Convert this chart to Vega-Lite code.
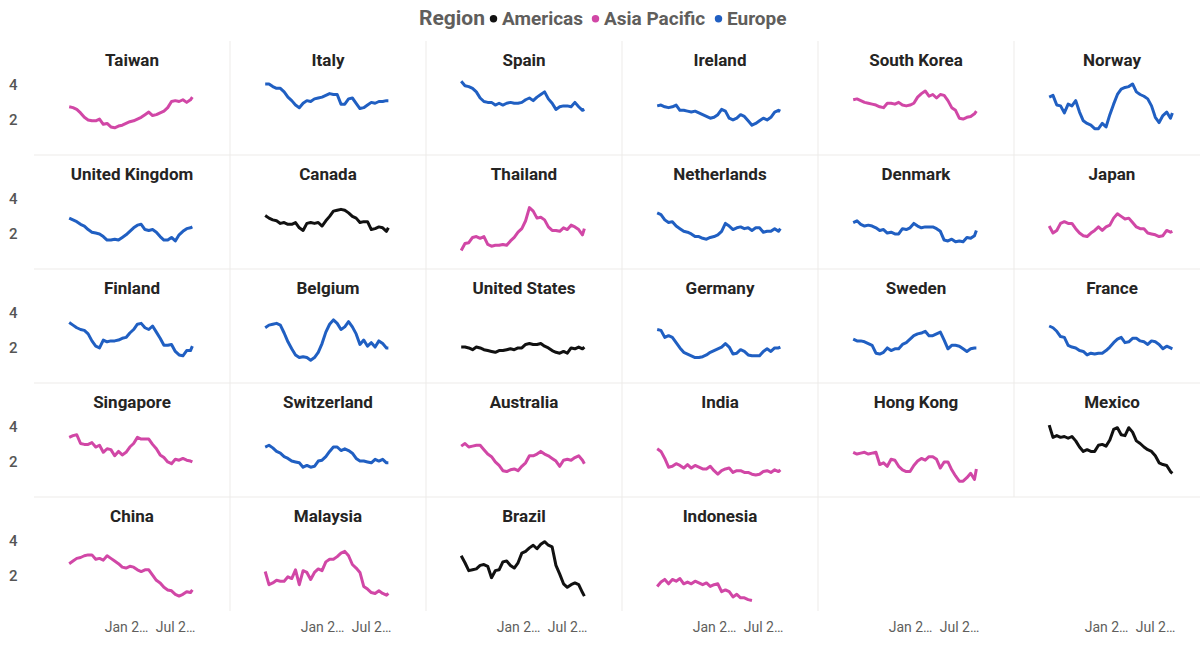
{
  "$schema": "https://vega.github.io/schema/vega-lite/v6.json",
  "padding": {"left": 8, "top": 9, "right": 0, "bottom": 0},
  "bounds": "flush",
  "background": "white",
  "config": {
    "font": "Roboto",
    "view": {"stroke": null},
    "axis": {"domain": false, "ticks": false, "grid": false, "labelFont": "Roboto", "labelColor": "#605E5C", "labelFontSize": 14}
  },
  "datasets": {
    "countries": [
      {"c": "Taiwan", "region": "Asia Pacific", "slot": 0},
      {"c": "Italy", "region": "Europe", "slot": 1},
      {"c": "Spain", "region": "Europe", "slot": 2},
      {"c": "Ireland", "region": "Europe", "slot": 3},
      {"c": "South Korea", "region": "Asia Pacific", "slot": 4},
      {"c": "Norway", "region": "Europe", "slot": 5},
      {"c": "United Kingdom", "region": "Europe", "slot": 6},
      {"c": "Canada", "region": "Americas", "slot": 7},
      {"c": "Thailand", "region": "Asia Pacific", "slot": 8},
      {"c": "Netherlands", "region": "Europe", "slot": 9},
      {"c": "Denmark", "region": "Europe", "slot": 10},
      {"c": "Japan", "region": "Asia Pacific", "slot": 11},
      {"c": "Finland", "region": "Europe", "slot": 12},
      {"c": "Belgium", "region": "Europe", "slot": 13},
      {"c": "United States", "region": "Americas", "slot": 14},
      {"c": "Germany", "region": "Europe", "slot": 15},
      {"c": "Sweden", "region": "Europe", "slot": 16},
      {"c": "France", "region": "Europe", "slot": 17},
      {"c": "Singapore", "region": "Asia Pacific", "slot": 18},
      {"c": "Switzerland", "region": "Europe", "slot": 19},
      {"c": "Australia", "region": "Asia Pacific", "slot": 20},
      {"c": "India", "region": "Asia Pacific", "slot": 21},
      {"c": "Hong Kong", "region": "Asia Pacific", "slot": 22},
      {"c": "Mexico", "region": "Americas", "slot": 23},
      {"c": "China", "region": "Asia Pacific", "slot": 24},
      {"c": "Malaysia", "region": "Asia Pacific", "slot": 25},
      {"c": "Brazil", "region": "Americas", "slot": 26},
      {"c": "Indonesia", "region": "Asia Pacific", "slot": 27}
    ],
    "series": [
      {"c":"Taiwan","d":"2022-06-05","v":2.75},{"c":"Taiwan","d":"2022-06-19","v":2.7},{"c":"Taiwan","d":"2022-07-03","v":2.6},{"c":"Taiwan","d":"2022-07-17","v":2.4},{"c":"Taiwan","d":"2022-07-31","v":2.15},{"c":"Taiwan","d":"2022-08-14","v":2.0},{"c":"Taiwan","d":"2022-08-28","v":1.95},{"c":"Taiwan","d":"2022-09-11","v":1.95},{"c":"Taiwan","d":"2022-09-25","v":2.05},{"c":"Taiwan","d":"2022-10-09","v":1.75},{"c":"Taiwan","d":"2022-10-23","v":1.8},{"c":"Taiwan","d":"2022-11-06","v":1.6},{"c":"Taiwan","d":"2022-11-20","v":1.55},{"c":"Taiwan","d":"2022-12-04","v":1.65},{"c":"Taiwan","d":"2022-12-18","v":1.7},{"c":"Taiwan","d":"2023-01-01","v":1.8},{"c":"Taiwan","d":"2023-01-15","v":1.9},{"c":"Taiwan","d":"2023-01-29","v":1.95},{"c":"Taiwan","d":"2023-02-12","v":2.05},{"c":"Taiwan","d":"2023-02-26","v":2.15},{"c":"Taiwan","d":"2023-03-12","v":2.3},{"c":"Taiwan","d":"2023-03-26","v":2.45},{"c":"Taiwan","d":"2023-04-09","v":2.25},{"c":"Taiwan","d":"2023-04-23","v":2.3},{"c":"Taiwan","d":"2023-05-07","v":2.4},{"c":"Taiwan","d":"2023-05-21","v":2.5},{"c":"Taiwan","d":"2023-06-04","v":2.7},{"c":"Taiwan","d":"2023-06-18","v":3.05},{"c":"Taiwan","d":"2023-07-02","v":3.1},{"c":"Taiwan","d":"2023-07-16","v":3.05},{"c":"Taiwan","d":"2023-07-30","v":3.15},{"c":"Taiwan","d":"2023-08-13","v":3.0},{"c":"Taiwan","d":"2023-08-27","v":3.15},{"c":"Taiwan","d":"2023-09-03","v":3.3},
      {"c":"Italy","d":"2022-06-05","v":4.05},{"c":"Italy","d":"2022-06-19","v":4.05},{"c":"Italy","d":"2022-07-03","v":3.9},{"c":"Italy","d":"2022-07-17","v":3.8},{"c":"Italy","d":"2022-07-31","v":3.8},{"c":"Italy","d":"2022-08-14","v":3.6},{"c":"Italy","d":"2022-08-28","v":3.3},{"c":"Italy","d":"2022-09-11","v":3.1},{"c":"Italy","d":"2022-09-25","v":2.85},{"c":"Italy","d":"2022-10-09","v":2.7},{"c":"Italy","d":"2022-10-23","v":2.95},{"c":"Italy","d":"2022-11-06","v":3.1},{"c":"Italy","d":"2022-11-20","v":3.05},{"c":"Italy","d":"2022-12-04","v":3.2},{"c":"Italy","d":"2022-12-18","v":3.25},{"c":"Italy","d":"2023-01-01","v":3.3},{"c":"Italy","d":"2023-01-15","v":3.4},{"c":"Italy","d":"2023-01-29","v":3.5},{"c":"Italy","d":"2023-02-12","v":3.45},{"c":"Italy","d":"2023-02-26","v":3.45},{"c":"Italy","d":"2023-03-12","v":2.9},{"c":"Italy","d":"2023-03-26","v":2.9},{"c":"Italy","d":"2023-04-09","v":3.2},{"c":"Italy","d":"2023-04-23","v":3.25},{"c":"Italy","d":"2023-05-07","v":2.95},{"c":"Italy","d":"2023-05-21","v":2.65},{"c":"Italy","d":"2023-06-04","v":2.7},{"c":"Italy","d":"2023-06-18","v":2.85},{"c":"Italy","d":"2023-07-02","v":3.0},{"c":"Italy","d":"2023-07-16","v":2.95},{"c":"Italy","d":"2023-07-30","v":3.05},{"c":"Italy","d":"2023-08-13","v":3.05},{"c":"Italy","d":"2023-08-27","v":3.1},{"c":"Italy","d":"2023-09-03","v":3.1},
      {"c":"Spain","d":"2022-06-05","v":4.2},{"c":"Spain","d":"2022-06-19","v":3.95},{"c":"Spain","d":"2022-07-03","v":3.9},{"c":"Spain","d":"2022-07-17","v":3.8},{"c":"Spain","d":"2022-07-31","v":3.6},{"c":"Spain","d":"2022-08-14","v":3.25},{"c":"Spain","d":"2022-08-28","v":3.05},{"c":"Spain","d":"2022-09-11","v":3.0},{"c":"Spain","d":"2022-09-25","v":3.0},{"c":"Spain","d":"2022-10-09","v":2.85},{"c":"Spain","d":"2022-10-23","v":2.95},{"c":"Spain","d":"2022-11-06","v":2.85},{"c":"Spain","d":"2022-11-20","v":2.95},{"c":"Spain","d":"2022-12-04","v":3.0},{"c":"Spain","d":"2022-12-18","v":2.95},{"c":"Spain","d":"2023-01-01","v":2.95},{"c":"Spain","d":"2023-01-15","v":3.0},{"c":"Spain","d":"2023-01-29","v":3.15},{"c":"Spain","d":"2023-02-12","v":3.25},{"c":"Spain","d":"2023-02-26","v":3.1},{"c":"Spain","d":"2023-03-12","v":3.3},{"c":"Spain","d":"2023-03-26","v":3.45},{"c":"Spain","d":"2023-04-09","v":3.6},{"c":"Spain","d":"2023-04-23","v":3.2},{"c":"Spain","d":"2023-05-07","v":2.95},{"c":"Spain","d":"2023-05-21","v":2.6},{"c":"Spain","d":"2023-06-04","v":2.75},{"c":"Spain","d":"2023-06-18","v":2.8},{"c":"Spain","d":"2023-07-02","v":2.8},{"c":"Spain","d":"2023-07-16","v":2.75},{"c":"Spain","d":"2023-07-30","v":3.0},{"c":"Spain","d":"2023-08-13","v":2.75},{"c":"Spain","d":"2023-08-27","v":2.55},{"c":"Spain","d":"2023-09-03","v":2.6},
      {"c":"Ireland","d":"2022-06-05","v":2.8},{"c":"Ireland","d":"2022-06-19","v":2.85},{"c":"Ireland","d":"2022-07-03","v":2.75},{"c":"Ireland","d":"2022-07-17","v":2.7},{"c":"Ireland","d":"2022-07-31","v":2.75},{"c":"Ireland","d":"2022-08-14","v":2.85},{"c":"Ireland","d":"2022-08-28","v":2.55},{"c":"Ireland","d":"2022-09-11","v":2.55},{"c":"Ireland","d":"2022-09-25","v":2.5},{"c":"Ireland","d":"2022-10-09","v":2.45},{"c":"Ireland","d":"2022-10-23","v":2.5},{"c":"Ireland","d":"2022-11-06","v":2.4},{"c":"Ireland","d":"2022-11-20","v":2.3},{"c":"Ireland","d":"2022-12-04","v":2.2},{"c":"Ireland","d":"2022-12-18","v":2.1},{"c":"Ireland","d":"2023-01-01","v":2.15},{"c":"Ireland","d":"2023-01-15","v":2.3},{"c":"Ireland","d":"2023-01-29","v":2.6},{"c":"Ireland","d":"2023-02-12","v":2.5},{"c":"Ireland","d":"2023-02-26","v":2.1},{"c":"Ireland","d":"2023-03-12","v":2.0},{"c":"Ireland","d":"2023-03-26","v":2.1},{"c":"Ireland","d":"2023-04-09","v":2.3},{"c":"Ireland","d":"2023-04-23","v":2.2},{"c":"Ireland","d":"2023-05-07","v":1.95},{"c":"Ireland","d":"2023-05-21","v":1.7},{"c":"Ireland","d":"2023-06-04","v":1.8},{"c":"Ireland","d":"2023-06-18","v":1.95},{"c":"Ireland","d":"2023-07-02","v":2.1},{"c":"Ireland","d":"2023-07-16","v":2.0},{"c":"Ireland","d":"2023-07-30","v":2.15},{"c":"Ireland","d":"2023-08-13","v":2.45},{"c":"Ireland","d":"2023-08-27","v":2.55},{"c":"Ireland","d":"2023-09-03","v":2.5},
      {"c":"South Korea","d":"2022-06-05","v":3.15},{"c":"South Korea","d":"2022-06-19","v":3.2},{"c":"South Korea","d":"2022-07-03","v":3.1},{"c":"South Korea","d":"2022-07-17","v":3.0},{"c":"South Korea","d":"2022-07-31","v":2.95},{"c":"South Korea","d":"2022-08-14","v":2.9},{"c":"South Korea","d":"2022-08-28","v":2.85},{"c":"South Korea","d":"2022-09-11","v":2.75},{"c":"South Korea","d":"2022-09-25","v":2.7},{"c":"South Korea","d":"2022-10-09","v":2.95},{"c":"South Korea","d":"2022-10-23","v":2.95},{"c":"South Korea","d":"2022-11-06","v":2.9},{"c":"South Korea","d":"2022-11-20","v":3.0},{"c":"South Korea","d":"2022-12-04","v":2.85},{"c":"South Korea","d":"2022-12-18","v":2.8},{"c":"South Korea","d":"2023-01-01","v":2.85},{"c":"South Korea","d":"2023-01-15","v":2.95},{"c":"South Korea","d":"2023-01-29","v":3.3},{"c":"South Korea","d":"2023-02-12","v":3.5},{"c":"South Korea","d":"2023-02-26","v":3.65},{"c":"South Korea","d":"2023-03-12","v":3.35},{"c":"South Korea","d":"2023-03-26","v":3.45},{"c":"South Korea","d":"2023-04-09","v":3.25},{"c":"South Korea","d":"2023-04-23","v":3.45},{"c":"South Korea","d":"2023-05-07","v":3.4},{"c":"South Korea","d":"2023-05-21","v":3.1},{"c":"South Korea","d":"2023-06-04","v":2.7},{"c":"South Korea","d":"2023-06-18","v":2.55},{"c":"South Korea","d":"2023-07-02","v":2.1},{"c":"South Korea","d":"2023-07-16","v":2.05},{"c":"South Korea","d":"2023-07-30","v":2.15},{"c":"South Korea","d":"2023-08-13","v":2.2},{"c":"South Korea","d":"2023-08-27","v":2.35},{"c":"South Korea","d":"2023-09-03","v":2.5},
      {"c":"Norway","d":"2022-06-05","v":3.3},{"c":"Norway","d":"2022-06-19","v":3.4},{"c":"Norway","d":"2022-07-03","v":2.85},{"c":"Norway","d":"2022-07-17","v":2.8},{"c":"Norway","d":"2022-07-31","v":2.4},{"c":"Norway","d":"2022-08-14","v":2.9},{"c":"Norway","d":"2022-08-28","v":2.8},{"c":"Norway","d":"2022-09-11","v":3.1},{"c":"Norway","d":"2022-09-25","v":2.45},{"c":"Norway","d":"2022-10-09","v":1.95},{"c":"Norway","d":"2022-10-23","v":1.8},{"c":"Norway","d":"2022-11-06","v":1.7},{"c":"Norway","d":"2022-11-20","v":1.5},{"c":"Norway","d":"2022-12-04","v":1.5},{"c":"Norway","d":"2022-12-18","v":1.8},{"c":"Norway","d":"2023-01-01","v":1.6},{"c":"Norway","d":"2023-01-15","v":2.3},{"c":"Norway","d":"2023-01-29","v":2.9},{"c":"Norway","d":"2023-02-12","v":3.45},{"c":"Norway","d":"2023-02-26","v":3.75},{"c":"Norway","d":"2023-03-12","v":3.85},{"c":"Norway","d":"2023-03-26","v":3.9},{"c":"Norway","d":"2023-04-09","v":4.05},{"c":"Norway","d":"2023-04-23","v":3.6},{"c":"Norway","d":"2023-05-07","v":3.45},{"c":"Norway","d":"2023-05-21","v":3.35},{"c":"Norway","d":"2023-06-04","v":3.2},{"c":"Norway","d":"2023-06-18","v":2.8},{"c":"Norway","d":"2023-07-02","v":2.15},{"c":"Norway","d":"2023-07-16","v":1.85},{"c":"Norway","d":"2023-07-30","v":2.25},{"c":"Norway","d":"2023-08-13","v":2.45},{"c":"Norway","d":"2023-08-27","v":2.1},{"c":"Norway","d":"2023-09-03","v":2.4},
      {"c":"United Kingdom","d":"2022-06-05","v":2.9},{"c":"United Kingdom","d":"2022-06-19","v":2.8},{"c":"United Kingdom","d":"2022-07-03","v":2.7},{"c":"United Kingdom","d":"2022-07-17","v":2.55},{"c":"United Kingdom","d":"2022-07-31","v":2.45},{"c":"United Kingdom","d":"2022-08-14","v":2.25},{"c":"United Kingdom","d":"2022-08-28","v":2.1},{"c":"United Kingdom","d":"2022-09-11","v":2.05},{"c":"United Kingdom","d":"2022-09-25","v":2.0},{"c":"United Kingdom","d":"2022-10-09","v":1.85},{"c":"United Kingdom","d":"2022-10-23","v":1.65},{"c":"United Kingdom","d":"2022-11-06","v":1.65},{"c":"United Kingdom","d":"2022-11-20","v":1.7},{"c":"United Kingdom","d":"2022-12-04","v":1.65},{"c":"United Kingdom","d":"2022-12-18","v":1.8},{"c":"United Kingdom","d":"2023-01-01","v":1.95},{"c":"United Kingdom","d":"2023-01-15","v":2.15},{"c":"United Kingdom","d":"2023-01-29","v":2.35},{"c":"United Kingdom","d":"2023-02-12","v":2.5},{"c":"United Kingdom","d":"2023-02-26","v":2.55},{"c":"United Kingdom","d":"2023-03-12","v":2.25},{"c":"United Kingdom","d":"2023-03-26","v":2.2},{"c":"United Kingdom","d":"2023-04-09","v":2.25},{"c":"United Kingdom","d":"2023-04-23","v":2.1},{"c":"United Kingdom","d":"2023-05-07","v":1.85},{"c":"United Kingdom","d":"2023-05-21","v":1.65},{"c":"United Kingdom","d":"2023-06-04","v":1.65},{"c":"United Kingdom","d":"2023-06-18","v":1.8},{"c":"United Kingdom","d":"2023-07-02","v":1.6},{"c":"United Kingdom","d":"2023-07-16","v":1.95},{"c":"United Kingdom","d":"2023-07-30","v":2.15},{"c":"United Kingdom","d":"2023-08-13","v":2.3},{"c":"United Kingdom","d":"2023-08-27","v":2.35},{"c":"United Kingdom","d":"2023-09-03","v":2.4},
      {"c":"Canada","d":"2022-06-05","v":3.05},{"c":"Canada","d":"2022-06-19","v":2.9},{"c":"Canada","d":"2022-07-03","v":2.8},{"c":"Canada","d":"2022-07-17","v":2.75},{"c":"Canada","d":"2022-07-31","v":2.6},{"c":"Canada","d":"2022-08-14","v":2.65},{"c":"Canada","d":"2022-08-28","v":2.55},{"c":"Canada","d":"2022-09-11","v":2.55},{"c":"Canada","d":"2022-09-25","v":2.65},{"c":"Canada","d":"2022-10-09","v":2.35},{"c":"Canada","d":"2022-10-23","v":2.2},{"c":"Canada","d":"2022-11-06","v":2.6},{"c":"Canada","d":"2022-11-20","v":2.65},{"c":"Canada","d":"2022-12-04","v":2.6},{"c":"Canada","d":"2022-12-18","v":2.65},{"c":"Canada","d":"2023-01-01","v":2.45},{"c":"Canada","d":"2023-01-15","v":2.75},{"c":"Canada","d":"2023-01-29","v":3.0},{"c":"Canada","d":"2023-02-12","v":3.3},{"c":"Canada","d":"2023-02-26","v":3.35},{"c":"Canada","d":"2023-03-12","v":3.4},{"c":"Canada","d":"2023-03-26","v":3.35},{"c":"Canada","d":"2023-04-09","v":3.2},{"c":"Canada","d":"2023-04-23","v":3.0},{"c":"Canada","d":"2023-05-07","v":2.9},{"c":"Canada","d":"2023-05-21","v":2.65},{"c":"Canada","d":"2023-06-04","v":2.7},{"c":"Canada","d":"2023-06-18","v":2.7},{"c":"Canada","d":"2023-07-02","v":2.25},{"c":"Canada","d":"2023-07-16","v":2.3},{"c":"Canada","d":"2023-07-30","v":2.4},{"c":"Canada","d":"2023-08-13","v":2.35},{"c":"Canada","d":"2023-08-27","v":2.15},{"c":"Canada","d":"2023-09-03","v":2.35},
      {"c":"Thailand","d":"2022-06-05","v":1.05},{"c":"Thailand","d":"2022-06-19","v":1.45},{"c":"Thailand","d":"2022-07-03","v":1.5},{"c":"Thailand","d":"2022-07-17","v":1.8},{"c":"Thailand","d":"2022-07-31","v":1.85},{"c":"Thailand","d":"2022-08-14","v":1.75},{"c":"Thailand","d":"2022-08-28","v":1.85},{"c":"Thailand","d":"2022-09-11","v":1.4},{"c":"Thailand","d":"2022-09-25","v":1.3},{"c":"Thailand","d":"2022-10-09","v":1.35},{"c":"Thailand","d":"2022-10-23","v":1.35},{"c":"Thailand","d":"2022-11-06","v":1.4},{"c":"Thailand","d":"2022-11-20","v":1.35},{"c":"Thailand","d":"2022-12-04","v":1.6},{"c":"Thailand","d":"2022-12-18","v":1.8},{"c":"Thailand","d":"2023-01-01","v":2.1},{"c":"Thailand","d":"2023-01-15","v":2.3},{"c":"Thailand","d":"2023-01-29","v":2.75},{"c":"Thailand","d":"2023-02-12","v":3.5},{"c":"Thailand","d":"2023-02-26","v":3.3},{"c":"Thailand","d":"2023-03-12","v":2.9},{"c":"Thailand","d":"2023-03-26","v":2.95},{"c":"Thailand","d":"2023-04-09","v":2.8},{"c":"Thailand","d":"2023-04-23","v":2.4},{"c":"Thailand","d":"2023-05-07","v":2.2},{"c":"Thailand","d":"2023-05-21","v":2.2},{"c":"Thailand","d":"2023-06-04","v":2.15},{"c":"Thailand","d":"2023-06-18","v":2.35},{"c":"Thailand","d":"2023-07-02","v":2.25},{"c":"Thailand","d":"2023-07-16","v":2.5},{"c":"Thailand","d":"2023-07-30","v":2.4},{"c":"Thailand","d":"2023-08-13","v":2.25},{"c":"Thailand","d":"2023-08-27","v":1.95},{"c":"Thailand","d":"2023-09-03","v":2.3},
      {"c":"Netherlands","d":"2022-06-05","v":3.2},{"c":"Netherlands","d":"2022-06-19","v":3.1},{"c":"Netherlands","d":"2022-07-03","v":2.8},{"c":"Netherlands","d":"2022-07-17","v":2.65},{"c":"Netherlands","d":"2022-07-31","v":2.7},{"c":"Netherlands","d":"2022-08-14","v":2.45},{"c":"Netherlands","d":"2022-08-28","v":2.3},{"c":"Netherlands","d":"2022-09-11","v":2.15},{"c":"Netherlands","d":"2022-09-25","v":2.1},{"c":"Netherlands","d":"2022-10-09","v":2.0},{"c":"Netherlands","d":"2022-10-23","v":1.85},{"c":"Netherlands","d":"2022-11-06","v":1.85},{"c":"Netherlands","d":"2022-11-20","v":1.75},{"c":"Netherlands","d":"2022-12-04","v":1.7},{"c":"Netherlands","d":"2022-12-18","v":1.8},{"c":"Netherlands","d":"2023-01-01","v":1.85},{"c":"Netherlands","d":"2023-01-15","v":1.95},{"c":"Netherlands","d":"2023-01-29","v":2.15},{"c":"Netherlands","d":"2023-02-12","v":2.6},{"c":"Netherlands","d":"2023-02-26","v":2.45},{"c":"Netherlands","d":"2023-03-12","v":2.25},{"c":"Netherlands","d":"2023-03-26","v":2.35},{"c":"Netherlands","d":"2023-04-09","v":2.4},{"c":"Netherlands","d":"2023-04-23","v":2.3},{"c":"Netherlands","d":"2023-05-07","v":2.35},{"c":"Netherlands","d":"2023-05-21","v":2.2},{"c":"Netherlands","d":"2023-06-04","v":2.35},{"c":"Netherlands","d":"2023-06-18","v":2.35},{"c":"Netherlands","d":"2023-07-02","v":2.1},{"c":"Netherlands","d":"2023-07-16","v":2.15},{"c":"Netherlands","d":"2023-07-30","v":2.15},{"c":"Netherlands","d":"2023-08-13","v":2.3},{"c":"Netherlands","d":"2023-08-27","v":2.15},{"c":"Netherlands","d":"2023-09-03","v":2.3},
      {"c":"Denmark","d":"2022-06-05","v":2.65},{"c":"Denmark","d":"2022-06-19","v":2.75},{"c":"Denmark","d":"2022-07-03","v":2.55},{"c":"Denmark","d":"2022-07-17","v":2.45},{"c":"Denmark","d":"2022-07-31","v":2.5},{"c":"Denmark","d":"2022-08-14","v":2.45},{"c":"Denmark","d":"2022-08-28","v":2.35},{"c":"Denmark","d":"2022-09-11","v":2.2},{"c":"Denmark","d":"2022-09-25","v":2.25},{"c":"Denmark","d":"2022-10-09","v":2.05},{"c":"Denmark","d":"2022-10-23","v":2.1},{"c":"Denmark","d":"2022-11-06","v":2.0},{"c":"Denmark","d":"2022-11-20","v":2.0},{"c":"Denmark","d":"2022-12-04","v":2.3},{"c":"Denmark","d":"2022-12-18","v":2.25},{"c":"Denmark","d":"2023-01-01","v":2.35},{"c":"Denmark","d":"2023-01-15","v":2.6},{"c":"Denmark","d":"2023-01-29","v":2.45},{"c":"Denmark","d":"2023-02-12","v":2.35},{"c":"Denmark","d":"2023-02-26","v":2.4},{"c":"Denmark","d":"2023-03-12","v":2.4},{"c":"Denmark","d":"2023-03-26","v":2.4},{"c":"Denmark","d":"2023-04-09","v":2.3},{"c":"Denmark","d":"2023-04-23","v":2.15},{"c":"Denmark","d":"2023-05-07","v":1.65},{"c":"Denmark","d":"2023-05-21","v":1.6},{"c":"Denmark","d":"2023-06-04","v":1.7},{"c":"Denmark","d":"2023-06-18","v":1.55},{"c":"Denmark","d":"2023-07-02","v":1.6},{"c":"Denmark","d":"2023-07-16","v":1.55},{"c":"Denmark","d":"2023-07-30","v":1.8},{"c":"Denmark","d":"2023-08-13","v":1.75},{"c":"Denmark","d":"2023-08-27","v":1.9},{"c":"Denmark","d":"2023-09-03","v":2.2},
      {"c":"Japan","d":"2022-06-05","v":2.45},{"c":"Japan","d":"2022-06-19","v":2.05},{"c":"Japan","d":"2022-07-03","v":2.2},{"c":"Japan","d":"2022-07-17","v":2.6},{"c":"Japan","d":"2022-07-31","v":2.7},{"c":"Japan","d":"2022-08-14","v":2.6},{"c":"Japan","d":"2022-08-28","v":2.6},{"c":"Japan","d":"2022-09-11","v":2.3},{"c":"Japan","d":"2022-09-25","v":2.05},{"c":"Japan","d":"2022-10-09","v":1.9},{"c":"Japan","d":"2022-10-23","v":1.85},{"c":"Japan","d":"2022-11-06","v":2.05},{"c":"Japan","d":"2022-11-20","v":2.2},{"c":"Japan","d":"2022-12-04","v":2.4},{"c":"Japan","d":"2022-12-18","v":2.2},{"c":"Japan","d":"2023-01-01","v":2.4},{"c":"Japan","d":"2023-01-15","v":2.5},{"c":"Japan","d":"2023-01-29","v":2.9},{"c":"Japan","d":"2023-02-12","v":3.15},{"c":"Japan","d":"2023-02-26","v":3.0},{"c":"Japan","d":"2023-03-12","v":2.85},{"c":"Japan","d":"2023-03-26","v":2.9},{"c":"Japan","d":"2023-04-09","v":2.65},{"c":"Japan","d":"2023-04-23","v":2.4},{"c":"Japan","d":"2023-05-07","v":2.3},{"c":"Japan","d":"2023-05-21","v":2.3},{"c":"Japan","d":"2023-06-04","v":2.05},{"c":"Japan","d":"2023-06-18","v":2.0},{"c":"Japan","d":"2023-07-02","v":1.95},{"c":"Japan","d":"2023-07-16","v":1.85},{"c":"Japan","d":"2023-07-30","v":1.9},{"c":"Japan","d":"2023-08-13","v":2.2},{"c":"Japan","d":"2023-08-27","v":2.1},{"c":"Japan","d":"2023-09-03","v":2.15},
      {"c":"Finland","d":"2022-06-05","v":3.45},{"c":"Finland","d":"2022-06-19","v":3.3},{"c":"Finland","d":"2022-07-03","v":3.15},{"c":"Finland","d":"2022-07-17","v":3.05},{"c":"Finland","d":"2022-07-31","v":3.0},{"c":"Finland","d":"2022-08-14","v":2.8},{"c":"Finland","d":"2022-08-28","v":2.4},{"c":"Finland","d":"2022-09-11","v":2.1},{"c":"Finland","d":"2022-09-25","v":2.0},{"c":"Finland","d":"2022-10-09","v":2.45},{"c":"Finland","d":"2022-10-23","v":2.35},{"c":"Finland","d":"2022-11-06","v":2.4},{"c":"Finland","d":"2022-11-20","v":2.4},{"c":"Finland","d":"2022-12-04","v":2.45},{"c":"Finland","d":"2022-12-18","v":2.55},{"c":"Finland","d":"2023-01-01","v":2.6},{"c":"Finland","d":"2023-01-15","v":2.85},{"c":"Finland","d":"2023-01-29","v":3.05},{"c":"Finland","d":"2023-02-12","v":3.35},{"c":"Finland","d":"2023-02-26","v":3.4},{"c":"Finland","d":"2023-03-12","v":3.15},{"c":"Finland","d":"2023-03-26","v":3.05},{"c":"Finland","d":"2023-04-09","v":3.25},{"c":"Finland","d":"2023-04-23","v":2.9},{"c":"Finland","d":"2023-05-07","v":2.55},{"c":"Finland","d":"2023-05-21","v":2.15},{"c":"Finland","d":"2023-06-04","v":2.15},{"c":"Finland","d":"2023-06-18","v":2.2},{"c":"Finland","d":"2023-07-02","v":1.8},{"c":"Finland","d":"2023-07-16","v":1.6},{"c":"Finland","d":"2023-07-30","v":1.55},{"c":"Finland","d":"2023-08-13","v":1.85},{"c":"Finland","d":"2023-08-27","v":1.85},{"c":"Finland","d":"2023-09-03","v":2.1},
      {"c":"Belgium","d":"2022-06-05","v":3.15},{"c":"Belgium","d":"2022-06-19","v":3.3},{"c":"Belgium","d":"2022-07-03","v":3.35},{"c":"Belgium","d":"2022-07-17","v":3.4},{"c":"Belgium","d":"2022-07-31","v":3.3},{"c":"Belgium","d":"2022-08-14","v":2.85},{"c":"Belgium","d":"2022-08-28","v":2.35},{"c":"Belgium","d":"2022-09-11","v":1.95},{"c":"Belgium","d":"2022-09-25","v":1.6},{"c":"Belgium","d":"2022-10-09","v":1.45},{"c":"Belgium","d":"2022-10-23","v":1.5},{"c":"Belgium","d":"2022-11-06","v":1.45},{"c":"Belgium","d":"2022-11-20","v":1.3},{"c":"Belgium","d":"2022-12-04","v":1.45},{"c":"Belgium","d":"2022-12-18","v":1.75},{"c":"Belgium","d":"2023-01-01","v":2.25},{"c":"Belgium","d":"2023-01-15","v":2.9},{"c":"Belgium","d":"2023-01-29","v":3.35},{"c":"Belgium","d":"2023-02-12","v":3.6},{"c":"Belgium","d":"2023-02-26","v":3.4},{"c":"Belgium","d":"2023-03-12","v":3.05},{"c":"Belgium","d":"2023-03-26","v":3.2},{"c":"Belgium","d":"2023-04-09","v":3.5},{"c":"Belgium","d":"2023-04-23","v":3.2},{"c":"Belgium","d":"2023-05-07","v":2.8},{"c":"Belgium","d":"2023-05-21","v":2.2},{"c":"Belgium","d":"2023-06-04","v":2.45},{"c":"Belgium","d":"2023-06-18","v":2.1},{"c":"Belgium","d":"2023-07-02","v":2.3},{"c":"Belgium","d":"2023-07-16","v":2.05},{"c":"Belgium","d":"2023-07-30","v":2.4},{"c":"Belgium","d":"2023-08-13","v":2.25},{"c":"Belgium","d":"2023-08-27","v":2.0},{"c":"Belgium","d":"2023-09-03","v":2.0},
      {"c":"United States","d":"2022-06-05","v":2.05},{"c":"United States","d":"2022-06-19","v":2.05},{"c":"United States","d":"2022-07-03","v":2.0},{"c":"United States","d":"2022-07-17","v":1.9},{"c":"United States","d":"2022-07-31","v":2.05},{"c":"United States","d":"2022-08-14","v":2.0},{"c":"United States","d":"2022-08-28","v":1.9},{"c":"United States","d":"2022-09-11","v":1.85},{"c":"United States","d":"2022-09-25","v":1.8},{"c":"United States","d":"2022-10-09","v":1.75},{"c":"United States","d":"2022-10-23","v":1.85},{"c":"United States","d":"2022-11-06","v":1.85},{"c":"United States","d":"2022-11-20","v":1.9},{"c":"United States","d":"2022-12-04","v":1.95},{"c":"United States","d":"2022-12-18","v":1.9},{"c":"United States","d":"2023-01-01","v":2.0},{"c":"United States","d":"2023-01-15","v":2.0},{"c":"United States","d":"2023-01-29","v":2.2},{"c":"United States","d":"2023-02-12","v":2.25},{"c":"United States","d":"2023-02-26","v":2.2},{"c":"United States","d":"2023-03-12","v":2.2},{"c":"United States","d":"2023-03-26","v":2.25},{"c":"United States","d":"2023-04-09","v":2.1},{"c":"United States","d":"2023-04-23","v":2.0},{"c":"United States","d":"2023-05-07","v":1.85},{"c":"United States","d":"2023-05-21","v":1.75},{"c":"United States","d":"2023-06-04","v":1.7},{"c":"United States","d":"2023-06-18","v":1.8},{"c":"United States","d":"2023-07-02","v":1.7},{"c":"United States","d":"2023-07-16","v":2.0},{"c":"United States","d":"2023-07-30","v":1.95},{"c":"United States","d":"2023-08-13","v":2.05},{"c":"United States","d":"2023-08-27","v":1.95},{"c":"United States","d":"2023-09-03","v":2.05},
      {"c":"Germany","d":"2022-06-05","v":3.05},{"c":"Germany","d":"2022-06-19","v":3.0},{"c":"Germany","d":"2022-07-03","v":2.6},{"c":"Germany","d":"2022-07-17","v":2.7},{"c":"Germany","d":"2022-07-31","v":2.6},{"c":"Germany","d":"2022-08-14","v":2.3},{"c":"Germany","d":"2022-08-28","v":2.0},{"c":"Germany","d":"2022-09-11","v":1.75},{"c":"Germany","d":"2022-09-25","v":1.65},{"c":"Germany","d":"2022-10-09","v":1.55},{"c":"Germany","d":"2022-10-23","v":1.45},{"c":"Germany","d":"2022-11-06","v":1.45},{"c":"Germany","d":"2022-11-20","v":1.5},{"c":"Germany","d":"2022-12-04","v":1.6},{"c":"Germany","d":"2022-12-18","v":1.75},{"c":"Germany","d":"2023-01-01","v":1.85},{"c":"Germany","d":"2023-01-15","v":1.95},{"c":"Germany","d":"2023-01-29","v":2.05},{"c":"Germany","d":"2023-02-12","v":2.25},{"c":"Germany","d":"2023-02-26","v":2.05},{"c":"Germany","d":"2023-03-12","v":1.65},{"c":"Germany","d":"2023-03-26","v":1.7},{"c":"Germany","d":"2023-04-09","v":1.9},{"c":"Germany","d":"2023-04-23","v":1.8},{"c":"Germany","d":"2023-05-07","v":1.6},{"c":"Germany","d":"2023-05-21","v":1.55},{"c":"Germany","d":"2023-06-04","v":1.55},{"c":"Germany","d":"2023-06-18","v":1.55},{"c":"Germany","d":"2023-07-02","v":1.8},{"c":"Germany","d":"2023-07-16","v":1.95},{"c":"Germany","d":"2023-07-30","v":1.8},{"c":"Germany","d":"2023-08-13","v":2.0},{"c":"Germany","d":"2023-08-27","v":2.0},{"c":"Germany","d":"2023-09-03","v":2.05},
      {"c":"Sweden","d":"2022-06-05","v":2.5},{"c":"Sweden","d":"2022-06-19","v":2.4},{"c":"Sweden","d":"2022-07-03","v":2.4},{"c":"Sweden","d":"2022-07-17","v":2.35},{"c":"Sweden","d":"2022-07-31","v":2.25},{"c":"Sweden","d":"2022-08-14","v":2.15},{"c":"Sweden","d":"2022-08-28","v":1.7},{"c":"Sweden","d":"2022-09-11","v":1.65},{"c":"Sweden","d":"2022-09-25","v":1.75},{"c":"Sweden","d":"2022-10-09","v":2.0},{"c":"Sweden","d":"2022-10-23","v":1.85},{"c":"Sweden","d":"2022-11-06","v":1.95},{"c":"Sweden","d":"2022-11-20","v":1.95},{"c":"Sweden","d":"2022-12-04","v":2.2},{"c":"Sweden","d":"2022-12-18","v":2.3},{"c":"Sweden","d":"2023-01-01","v":2.5},{"c":"Sweden","d":"2023-01-15","v":2.7},{"c":"Sweden","d":"2023-01-29","v":2.8},{"c":"Sweden","d":"2023-02-12","v":2.85},{"c":"Sweden","d":"2023-02-26","v":2.95},{"c":"Sweden","d":"2023-03-12","v":2.7},{"c":"Sweden","d":"2023-03-26","v":2.7},{"c":"Sweden","d":"2023-04-09","v":2.8},{"c":"Sweden","d":"2023-04-23","v":2.9},{"c":"Sweden","d":"2023-05-07","v":2.45},{"c":"Sweden","d":"2023-05-21","v":1.95},{"c":"Sweden","d":"2023-06-04","v":2.15},{"c":"Sweden","d":"2023-06-18","v":2.15},{"c":"Sweden","d":"2023-07-02","v":2.1},{"c":"Sweden","d":"2023-07-16","v":1.95},{"c":"Sweden","d":"2023-07-30","v":1.8},{"c":"Sweden","d":"2023-08-13","v":1.95},{"c":"Sweden","d":"2023-08-27","v":2.0},{"c":"Sweden","d":"2023-09-03","v":2.0},
      {"c":"France","d":"2022-06-05","v":3.25},{"c":"France","d":"2022-06-19","v":3.15},{"c":"France","d":"2022-07-03","v":2.95},{"c":"France","d":"2022-07-17","v":2.65},{"c":"France","d":"2022-07-31","v":2.6},{"c":"France","d":"2022-08-14","v":2.15},{"c":"France","d":"2022-08-28","v":2.05},{"c":"France","d":"2022-09-11","v":2.0},{"c":"France","d":"2022-09-25","v":1.85},{"c":"France","d":"2022-10-09","v":1.8},{"c":"France","d":"2022-10-23","v":1.6},{"c":"France","d":"2022-11-06","v":1.7},{"c":"France","d":"2022-11-20","v":1.65},{"c":"France","d":"2022-12-04","v":1.7},{"c":"France","d":"2022-12-18","v":1.7},{"c":"France","d":"2023-01-01","v":1.85},{"c":"France","d":"2023-01-15","v":2.05},{"c":"France","d":"2023-01-29","v":2.3},{"c":"France","d":"2023-02-12","v":2.5},{"c":"France","d":"2023-02-26","v":2.6},{"c":"France","d":"2023-03-12","v":2.3},{"c":"France","d":"2023-03-26","v":2.35},{"c":"France","d":"2023-04-09","v":2.55},{"c":"France","d":"2023-04-23","v":2.55},{"c":"France","d":"2023-05-07","v":2.4},{"c":"France","d":"2023-05-21","v":2.35},{"c":"France","d":"2023-06-04","v":2.2},{"c":"France","d":"2023-06-18","v":2.4},{"c":"France","d":"2023-07-02","v":2.35},{"c":"France","d":"2023-07-16","v":2.2},{"c":"France","d":"2023-07-30","v":1.95},{"c":"France","d":"2023-08-13","v":2.1},{"c":"France","d":"2023-08-27","v":2.0},{"c":"France","d":"2023-09-03","v":1.95},
      {"c":"Singapore","d":"2022-06-05","v":3.4},{"c":"Singapore","d":"2022-06-19","v":3.5},{"c":"Singapore","d":"2022-07-03","v":3.55},{"c":"Singapore","d":"2022-07-17","v":3.05},{"c":"Singapore","d":"2022-07-31","v":3.0},{"c":"Singapore","d":"2022-08-14","v":3.0},{"c":"Singapore","d":"2022-08-28","v":3.1},{"c":"Singapore","d":"2022-09-11","v":2.85},{"c":"Singapore","d":"2022-09-25","v":2.95},{"c":"Singapore","d":"2022-10-09","v":2.55},{"c":"Singapore","d":"2022-10-23","v":2.75},{"c":"Singapore","d":"2022-11-06","v":2.7},{"c":"Singapore","d":"2022-11-20","v":2.35},{"c":"Singapore","d":"2022-12-04","v":2.6},{"c":"Singapore","d":"2022-12-18","v":2.4},{"c":"Singapore","d":"2023-01-01","v":2.55},{"c":"Singapore","d":"2023-01-15","v":2.85},{"c":"Singapore","d":"2023-01-29","v":3.05},{"c":"Singapore","d":"2023-02-12","v":3.4},{"c":"Singapore","d":"2023-02-26","v":3.3},{"c":"Singapore","d":"2023-03-12","v":3.3},{"c":"Singapore","d":"2023-03-26","v":3.3},{"c":"Singapore","d":"2023-04-09","v":3.0},{"c":"Singapore","d":"2023-04-23","v":2.75},{"c":"Singapore","d":"2023-05-07","v":2.4},{"c":"Singapore","d":"2023-05-21","v":2.25},{"c":"Singapore","d":"2023-06-04","v":2.0},{"c":"Singapore","d":"2023-06-18","v":1.9},{"c":"Singapore","d":"2023-07-02","v":2.15},{"c":"Singapore","d":"2023-07-16","v":2.1},{"c":"Singapore","d":"2023-07-30","v":2.2},{"c":"Singapore","d":"2023-08-13","v":2.1},{"c":"Singapore","d":"2023-08-27","v":2.05},{"c":"Singapore","d":"2023-09-03","v":2.0},
      {"c":"Switzerland","d":"2022-06-05","v":2.85},{"c":"Switzerland","d":"2022-06-19","v":2.95},{"c":"Switzerland","d":"2022-07-03","v":2.8},{"c":"Switzerland","d":"2022-07-17","v":2.6},{"c":"Switzerland","d":"2022-07-31","v":2.5},{"c":"Switzerland","d":"2022-08-14","v":2.3},{"c":"Switzerland","d":"2022-08-28","v":2.2},{"c":"Switzerland","d":"2022-09-11","v":2.05},{"c":"Switzerland","d":"2022-09-25","v":2.0},{"c":"Switzerland","d":"2022-10-09","v":1.95},{"c":"Switzerland","d":"2022-10-23","v":1.7},{"c":"Switzerland","d":"2022-11-06","v":1.8},{"c":"Switzerland","d":"2022-11-20","v":1.7},{"c":"Switzerland","d":"2022-12-04","v":1.75},{"c":"Switzerland","d":"2022-12-18","v":2.05},{"c":"Switzerland","d":"2023-01-01","v":2.1},{"c":"Switzerland","d":"2023-01-15","v":2.3},{"c":"Switzerland","d":"2023-01-29","v":2.6},{"c":"Switzerland","d":"2023-02-12","v":2.85},{"c":"Switzerland","d":"2023-02-26","v":2.85},{"c":"Switzerland","d":"2023-03-12","v":2.65},{"c":"Switzerland","d":"2023-03-26","v":2.75},{"c":"Switzerland","d":"2023-04-09","v":2.65},{"c":"Switzerland","d":"2023-04-23","v":2.5},{"c":"Switzerland","d":"2023-05-07","v":2.2},{"c":"Switzerland","d":"2023-05-21","v":2.05},{"c":"Switzerland","d":"2023-06-04","v":2.05},{"c":"Switzerland","d":"2023-06-18","v":2.0},{"c":"Switzerland","d":"2023-07-02","v":1.95},{"c":"Switzerland","d":"2023-07-16","v":2.15},{"c":"Switzerland","d":"2023-07-30","v":2.05},{"c":"Switzerland","d":"2023-08-13","v":2.15},{"c":"Switzerland","d":"2023-08-27","v":1.95},{"c":"Switzerland","d":"2023-09-03","v":1.95},
      {"c":"Australia","d":"2022-06-05","v":2.9},{"c":"Australia","d":"2022-06-19","v":3.05},{"c":"Australia","d":"2022-07-03","v":2.85},{"c":"Australia","d":"2022-07-17","v":2.9},{"c":"Australia","d":"2022-07-31","v":2.95},{"c":"Australia","d":"2022-08-14","v":2.95},{"c":"Australia","d":"2022-08-28","v":2.7},{"c":"Australia","d":"2022-09-11","v":2.45},{"c":"Australia","d":"2022-09-25","v":2.3},{"c":"Australia","d":"2022-10-09","v":2.0},{"c":"Australia","d":"2022-10-23","v":1.8},{"c":"Australia","d":"2022-11-06","v":1.5},{"c":"Australia","d":"2022-11-20","v":1.45},{"c":"Australia","d":"2022-12-04","v":1.55},{"c":"Australia","d":"2022-12-18","v":1.6},{"c":"Australia","d":"2023-01-01","v":1.5},{"c":"Australia","d":"2023-01-15","v":1.75},{"c":"Australia","d":"2023-01-29","v":1.95},{"c":"Australia","d":"2023-02-12","v":2.35},{"c":"Australia","d":"2023-02-26","v":2.35},{"c":"Australia","d":"2023-03-12","v":2.45},{"c":"Australia","d":"2023-03-26","v":2.6},{"c":"Australia","d":"2023-04-09","v":2.45},{"c":"Australia","d":"2023-04-23","v":2.35},{"c":"Australia","d":"2023-05-07","v":2.2},{"c":"Australia","d":"2023-05-21","v":2.05},{"c":"Australia","d":"2023-06-04","v":1.75},{"c":"Australia","d":"2023-06-18","v":2.1},{"c":"Australia","d":"2023-07-02","v":2.15},{"c":"Australia","d":"2023-07-16","v":2.1},{"c":"Australia","d":"2023-07-30","v":2.25},{"c":"Australia","d":"2023-08-13","v":2.35},{"c":"Australia","d":"2023-08-27","v":2.1},{"c":"Australia","d":"2023-09-03","v":1.9},
      {"c":"India","d":"2022-06-05","v":2.75},{"c":"India","d":"2022-06-19","v":2.6},{"c":"India","d":"2022-07-03","v":2.2},{"c":"India","d":"2022-07-17","v":1.7},{"c":"India","d":"2022-07-31","v":1.75},{"c":"India","d":"2022-08-14","v":1.9},{"c":"India","d":"2022-08-28","v":1.8},{"c":"India","d":"2022-09-11","v":1.65},{"c":"India","d":"2022-09-25","v":1.85},{"c":"India","d":"2022-10-09","v":1.65},{"c":"India","d":"2022-10-23","v":1.8},{"c":"India","d":"2022-11-06","v":1.7},{"c":"India","d":"2022-11-20","v":1.6},{"c":"India","d":"2022-12-04","v":1.6},{"c":"India","d":"2022-12-18","v":1.75},{"c":"India","d":"2023-01-01","v":1.5},{"c":"India","d":"2023-01-15","v":1.3},{"c":"India","d":"2023-01-29","v":1.5},{"c":"India","d":"2023-02-12","v":1.6},{"c":"India","d":"2023-02-26","v":1.65},{"c":"India","d":"2023-03-12","v":1.4},{"c":"India","d":"2023-03-26","v":1.5},{"c":"India","d":"2023-04-09","v":1.5},{"c":"India","d":"2023-04-23","v":1.4},{"c":"India","d":"2023-05-07","v":1.4},{"c":"India","d":"2023-05-21","v":1.3},{"c":"India","d":"2023-06-04","v":1.25},{"c":"India","d":"2023-06-18","v":1.3},{"c":"India","d":"2023-07-02","v":1.45},{"c":"India","d":"2023-07-16","v":1.5},{"c":"India","d":"2023-07-30","v":1.4},{"c":"India","d":"2023-08-13","v":1.55},{"c":"India","d":"2023-08-27","v":1.45},{"c":"India","d":"2023-09-03","v":1.55},
      {"c":"Hong Kong","d":"2022-06-05","v":2.55},{"c":"Hong Kong","d":"2022-06-19","v":2.45},{"c":"Hong Kong","d":"2022-07-03","v":2.5},{"c":"Hong Kong","d":"2022-07-17","v":2.55},{"c":"Hong Kong","d":"2022-07-31","v":2.45},{"c":"Hong Kong","d":"2022-08-14","v":2.5},{"c":"Hong Kong","d":"2022-08-28","v":2.55},{"c":"Hong Kong","d":"2022-09-11","v":1.85},{"c":"Hong Kong","d":"2022-09-25","v":1.95},{"c":"Hong Kong","d":"2022-10-09","v":1.75},{"c":"Hong Kong","d":"2022-10-23","v":2.15},{"c":"Hong Kong","d":"2022-11-06","v":2.1},{"c":"Hong Kong","d":"2022-11-20","v":1.75},{"c":"Hong Kong","d":"2022-12-04","v":1.55},{"c":"Hong Kong","d":"2022-12-18","v":1.45},{"c":"Hong Kong","d":"2023-01-01","v":1.45},{"c":"Hong Kong","d":"2023-01-15","v":1.8},{"c":"Hong Kong","d":"2023-01-29","v":2.05},{"c":"Hong Kong","d":"2023-02-12","v":2.2},{"c":"Hong Kong","d":"2023-02-26","v":2.1},{"c":"Hong Kong","d":"2023-03-12","v":2.3},{"c":"Hong Kong","d":"2023-03-26","v":2.3},{"c":"Hong Kong","d":"2023-04-09","v":2.15},{"c":"Hong Kong","d":"2023-04-23","v":1.65},{"c":"Hong Kong","d":"2023-05-07","v":2.0},{"c":"Hong Kong","d":"2023-05-21","v":2.0},{"c":"Hong Kong","d":"2023-06-04","v":1.55},{"c":"Hong Kong","d":"2023-06-18","v":1.2},{"c":"Hong Kong","d":"2023-07-02","v":0.9},{"c":"Hong Kong","d":"2023-07-16","v":0.9},{"c":"Hong Kong","d":"2023-07-30","v":1.1},{"c":"Hong Kong","d":"2023-08-13","v":1.35},{"c":"Hong Kong","d":"2023-08-27","v":1.0},{"c":"Hong Kong","d":"2023-09-03","v":1.6},
      {"c":"Mexico","d":"2022-06-05","v":4.1},{"c":"Mexico","d":"2022-06-19","v":3.4},{"c":"Mexico","d":"2022-07-03","v":3.5},{"c":"Mexico","d":"2022-07-17","v":3.4},{"c":"Mexico","d":"2022-07-31","v":3.45},{"c":"Mexico","d":"2022-08-14","v":3.35},{"c":"Mexico","d":"2022-08-28","v":3.45},{"c":"Mexico","d":"2022-09-11","v":3.2},{"c":"Mexico","d":"2022-09-25","v":2.85},{"c":"Mexico","d":"2022-10-09","v":2.6},{"c":"Mexico","d":"2022-10-23","v":2.7},{"c":"Mexico","d":"2022-11-06","v":2.6},{"c":"Mexico","d":"2022-11-20","v":2.6},{"c":"Mexico","d":"2022-12-04","v":2.95},{"c":"Mexico","d":"2022-12-18","v":3.0},{"c":"Mexico","d":"2023-01-01","v":2.9},{"c":"Mexico","d":"2023-01-15","v":3.25},{"c":"Mexico","d":"2023-01-29","v":3.85},{"c":"Mexico","d":"2023-02-12","v":3.95},{"c":"Mexico","d":"2023-02-26","v":3.55},{"c":"Mexico","d":"2023-03-12","v":3.5},{"c":"Mexico","d":"2023-03-26","v":3.95},{"c":"Mexico","d":"2023-04-09","v":3.7},{"c":"Mexico","d":"2023-04-23","v":3.2},{"c":"Mexico","d":"2023-05-07","v":3.05},{"c":"Mexico","d":"2023-05-21","v":2.85},{"c":"Mexico","d":"2023-06-04","v":2.7},{"c":"Mexico","d":"2023-06-18","v":2.6},{"c":"Mexico","d":"2023-07-02","v":2.35},{"c":"Mexico","d":"2023-07-16","v":1.95},{"c":"Mexico","d":"2023-07-30","v":1.85},{"c":"Mexico","d":"2023-08-13","v":1.8},{"c":"Mexico","d":"2023-08-27","v":1.45},{"c":"Mexico","d":"2023-09-03","v":1.35},
      {"c":"China","d":"2022-06-05","v":2.7},{"c":"China","d":"2022-06-19","v":2.85},{"c":"China","d":"2022-07-03","v":3.0},{"c":"China","d":"2022-07-17","v":3.05},{"c":"China","d":"2022-07-31","v":3.15},{"c":"China","d":"2022-08-14","v":3.2},{"c":"China","d":"2022-08-28","v":3.2},{"c":"China","d":"2022-09-11","v":2.95},{"c":"China","d":"2022-09-25","v":3.0},{"c":"China","d":"2022-10-09","v":2.9},{"c":"China","d":"2022-10-23","v":3.15},{"c":"China","d":"2022-11-06","v":3.0},{"c":"China","d":"2022-11-20","v":2.85},{"c":"China","d":"2022-12-04","v":2.7},{"c":"China","d":"2022-12-18","v":2.5},{"c":"China","d":"2023-01-01","v":2.45},{"c":"China","d":"2023-01-15","v":2.55},{"c":"China","d":"2023-01-29","v":2.5},{"c":"China","d":"2023-02-12","v":2.35},{"c":"China","d":"2023-02-26","v":2.25},{"c":"China","d":"2023-03-12","v":2.35},{"c":"China","d":"2023-03-26","v":2.35},{"c":"China","d":"2023-04-09","v":2.05},{"c":"China","d":"2023-04-23","v":1.75},{"c":"China","d":"2023-05-07","v":1.6},{"c":"China","d":"2023-05-21","v":1.35},{"c":"China","d":"2023-06-04","v":1.2},{"c":"China","d":"2023-06-18","v":1.15},{"c":"China","d":"2023-07-02","v":0.95},{"c":"China","d":"2023-07-16","v":0.85},{"c":"China","d":"2023-07-30","v":0.95},{"c":"China","d":"2023-08-13","v":1.1},{"c":"China","d":"2023-08-27","v":1.05},{"c":"China","d":"2023-09-03","v":1.2},
      {"c":"Malaysia","d":"2022-06-05","v":2.25},{"c":"Malaysia","d":"2022-06-19","v":1.5},{"c":"Malaysia","d":"2022-07-03","v":1.6},{"c":"Malaysia","d":"2022-07-17","v":1.75},{"c":"Malaysia","d":"2022-07-31","v":1.7},{"c":"Malaysia","d":"2022-08-14","v":1.7},{"c":"Malaysia","d":"2022-08-28","v":1.95},{"c":"Malaysia","d":"2022-09-11","v":1.85},{"c":"Malaysia","d":"2022-09-25","v":2.35},{"c":"Malaysia","d":"2022-10-09","v":1.5},{"c":"Malaysia","d":"2022-10-23","v":2.3},{"c":"Malaysia","d":"2022-11-06","v":2.2},{"c":"Malaysia","d":"2022-11-20","v":1.8},{"c":"Malaysia","d":"2022-12-04","v":2.2},{"c":"Malaysia","d":"2022-12-18","v":2.4},{"c":"Malaysia","d":"2023-01-01","v":2.3},{"c":"Malaysia","d":"2023-01-15","v":2.8},{"c":"Malaysia","d":"2023-01-29","v":2.95},{"c":"Malaysia","d":"2023-02-12","v":2.95},{"c":"Malaysia","d":"2023-02-26","v":3.1},{"c":"Malaysia","d":"2023-03-12","v":3.3},{"c":"Malaysia","d":"2023-03-26","v":3.4},{"c":"Malaysia","d":"2023-04-09","v":3.15},{"c":"Malaysia","d":"2023-04-23","v":2.65},{"c":"Malaysia","d":"2023-05-07","v":2.45},{"c":"Malaysia","d":"2023-05-21","v":2.2},{"c":"Malaysia","d":"2023-06-04","v":1.4},{"c":"Malaysia","d":"2023-06-18","v":1.25},{"c":"Malaysia","d":"2023-07-02","v":1.05},{"c":"Malaysia","d":"2023-07-16","v":1.0},{"c":"Malaysia","d":"2023-07-30","v":1.15},{"c":"Malaysia","d":"2023-08-13","v":1.0},{"c":"Malaysia","d":"2023-08-27","v":0.9},{"c":"Malaysia","d":"2023-09-03","v":1.0},
      {"c":"Brazil","d":"2022-06-05","v":3.15},{"c":"Brazil","d":"2022-06-19","v":2.75},{"c":"Brazil","d":"2022-07-03","v":2.3},{"c":"Brazil","d":"2022-07-17","v":2.35},{"c":"Brazil","d":"2022-07-31","v":2.4},{"c":"Brazil","d":"2022-08-14","v":2.6},{"c":"Brazil","d":"2022-08-28","v":2.65},{"c":"Brazil","d":"2022-09-11","v":2.55},{"c":"Brazil","d":"2022-09-25","v":1.9},{"c":"Brazil","d":"2022-10-09","v":2.3},{"c":"Brazil","d":"2022-10-23","v":2.35},{"c":"Brazil","d":"2022-11-06","v":2.8},{"c":"Brazil","d":"2022-11-20","v":2.85},{"c":"Brazil","d":"2022-12-04","v":2.6},{"c":"Brazil","d":"2022-12-18","v":2.45},{"c":"Brazil","d":"2023-01-01","v":2.75},{"c":"Brazil","d":"2023-01-15","v":3.3},{"c":"Brazil","d":"2023-01-29","v":3.4},{"c":"Brazil","d":"2023-02-12","v":3.6},{"c":"Brazil","d":"2023-02-26","v":3.75},{"c":"Brazil","d":"2023-03-12","v":3.55},{"c":"Brazil","d":"2023-03-26","v":3.8},{"c":"Brazil","d":"2023-04-09","v":3.95},{"c":"Brazil","d":"2023-04-23","v":3.75},{"c":"Brazil","d":"2023-05-07","v":3.65},{"c":"Brazil","d":"2023-05-21","v":2.6},{"c":"Brazil","d":"2023-06-04","v":2.1},{"c":"Brazil","d":"2023-06-18","v":1.55},{"c":"Brazil","d":"2023-07-02","v":1.35},{"c":"Brazil","d":"2023-07-16","v":1.5},{"c":"Brazil","d":"2023-07-30","v":1.6},{"c":"Brazil","d":"2023-08-13","v":1.5},{"c":"Brazil","d":"2023-08-27","v":1.05},{"c":"Brazil","d":"2023-09-03","v":0.85},
      {"c":"Indonesia","d":"2022-06-05","v":1.4},{"c":"Indonesia","d":"2022-06-19","v":1.65},{"c":"Indonesia","d":"2022-07-03","v":1.8},{"c":"Indonesia","d":"2022-07-17","v":1.55},{"c":"Indonesia","d":"2022-07-31","v":1.8},{"c":"Indonesia","d":"2022-08-14","v":1.7},{"c":"Indonesia","d":"2022-08-28","v":1.85},{"c":"Indonesia","d":"2022-09-11","v":1.55},{"c":"Indonesia","d":"2022-09-25","v":1.65},{"c":"Indonesia","d":"2022-10-09","v":1.55},{"c":"Indonesia","d":"2022-10-23","v":1.7},{"c":"Indonesia","d":"2022-11-06","v":1.6},{"c":"Indonesia","d":"2022-11-20","v":1.5},{"c":"Indonesia","d":"2022-12-04","v":1.6},{"c":"Indonesia","d":"2022-12-18","v":1.4},{"c":"Indonesia","d":"2023-01-01","v":1.5},{"c":"Indonesia","d":"2023-01-15","v":1.55},{"c":"Indonesia","d":"2023-01-29","v":1.1},{"c":"Indonesia","d":"2023-02-12","v":1.2},{"c":"Indonesia","d":"2023-02-26","v":1.1},{"c":"Indonesia","d":"2023-03-12","v":0.8},{"c":"Indonesia","d":"2023-03-26","v":0.95},{"c":"Indonesia","d":"2023-04-09","v":0.75},{"c":"Indonesia","d":"2023-04-23","v":0.75},{"c":"Indonesia","d":"2023-05-07","v":0.65},{"c":"Indonesia","d":"2023-05-21","v":0.6}
    ]
  },
  "data": {"name": "series"},
  "transform": [
    {"lookup": "c", "from": {"data": {"name": "countries"}, "key": "c", "fields": ["region", "slot"]}},
    {"calculate": "floor(datum.slot / 6)", "as": "row"},
    {"calculate": "datum.slot % 6", "as": "col"}
  ],
  "facet": {
    "row": {"field": "row", "type": "ordinal", "header": {"labels": false, "title": null}},
    "column": {"field": "col", "type": "ordinal", "header": {"labels": false, "title": null}}
  },
  "spacing": {"row": 0, "column": 0},
  "spec": {
    "width": 196,
    "height": 114,
    "layer": [
      {
        "transform": [{"aggregate": [{"op": "count", "as": "n"}], "groupby": ["c"]}],
        "mark": {"type": "rule", "color": "#EDEBE9", "strokeWidth": 1},
        "encoding": {"x": {"datum": {"year": 2024, "month": 1, "date": 20}, "type": "temporal", "title": null}}
      },
      {
        "transform": [
          {"aggregate": [{"op": "count", "as": "n"}], "groupby": ["c", "row"]},
          {"filter": "datum.row < 4"}
        ],
        "mark": {"type": "rule", "color": "#EDEBE9", "strokeWidth": 1},
        "encoding": {"y": {"datum": 0, "type": "quantitative", "title": null}}
      },
      {
        "transform": [{"aggregate": [{"op": "count", "as": "n"}], "groupby": ["c"]}],
        "mark": {"type": "text", "fontSize": 17, "fontWeight": "bold", "color": "#252423", "baseline": "middle", "align": "center"},
        "encoding": {
          "y": {"datum": 5.35, "type": "quantitative", "title": null},
          "text": {"field": "c"}
        }
      },
      {
        "mark": {"type": "line", "strokeWidth": 3, "strokeJoin": "round"},
        "encoding": {
          "x": {
            "field": "d",
            "type": "temporal",
            "title": null,
            "scale": {"domain": [{"year": 2022, "month": 1, "date": 26}, {"year": 2024, "month": 1, "date": 20}]},
            "axis": {
              "values": [{"year": 2023, "month": 1, "date": 1}, {"year": 2023, "month": 7, "date": 1}],
              "format": "%b %Y",
              "labelLimit": 46,
              "labelPadding": 9,
              "labelFontSize": 14,
              "labelColor": "#605E5C",
              "labelFlush": false
            }
          },
          "y": {
            "field": "v",
            "type": "quantitative",
            "title": null,
            "scale": {"domain": [0, 6.5], "nice": false, "zero": false},
            "axis": {"values": [2, 4], "labelPadding": 17, "labelFontSize": 15, "labelFontWeight": 500, "labelColor": "#555555"}
          },
          "color": {
            "field": "region",
            "type": "nominal",
            "scale": {"domain": ["Americas", "Asia Pacific", "Europe"], "range": ["#111111", "#D147A6", "#205FC2"]},
            "legend": {
              "orient": "none",
              "legendX": 385,
              "legendY": -32,
              "direction": "horizontal",
              "title": "Region",
              "titleOrient": "left",
              "titleFontSize": 21,
              "titleFontWeight": "bold",
              "titleColor": "#605E5C",
              "titlePadding": -1,
              "labelFontSize": 19,
              "labelFontWeight": "bold",
              "labelColor": "#605E5C",
              "labelOffset": -1,
              "columnPadding": 3,
              "symbolType": "circle",
              "symbolSize": 55,
              "symbolStrokeWidth": 0,
              "encode": {"symbols": {"update": {"fill": {"scale": "color", "field": "value"}}}}
            }
          }
        }
      }
    ]
  }
}
